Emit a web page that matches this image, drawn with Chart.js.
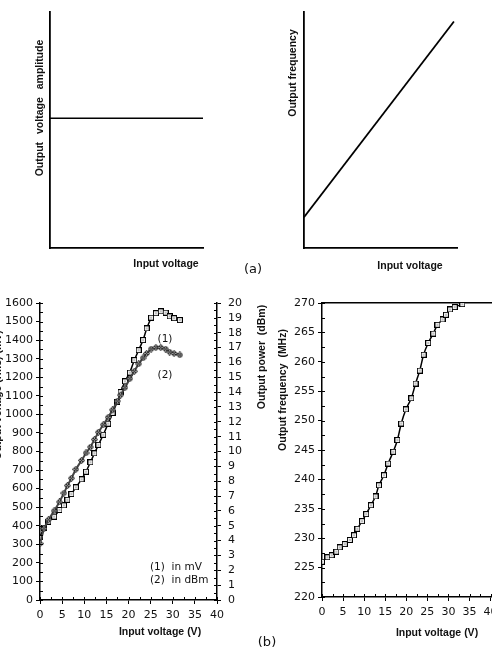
<!DOCTYPE html>
<html>
<head>
<meta charset="utf-8">
<script src="https://cdn.jsdelivr.net/npm/chart.js@4.4.1/dist/chart.umd.min.js"></script>
<style>
  html, body { margin: 0; padding: 0; background: #fff; }
  #wrap { position: relative; width: 492px; height: 650px; overflow: hidden; background: #fff; }
  #wrap canvas { position: absolute; left: 0; top: 0; }
</style>
</head>
<body>
<div id="wrap">
  <canvas id="ampChart" width="520" height="650"></canvas>
  <canvas id="freqSketch" width="520" height="650"></canvas>
  <canvas id="powerChart" width="520" height="650"></canvas>
  <canvas id="freqChart" width="520" height="650"></canvas>
</div>
<script>
// (a) idealised responses, axes in arbitrary units
const ampIn = [0, 1];
const ampOut = [0.55, 0.55];
const sketchIn = [0, 0.98];
const sketchFreq = [0.13, 0.96];

// (b) left: output voltage (mV) and output power (dBm) vs input voltage
const voltsPow = [0, 0.9, 1.9, 3.2, 4.4, 5.4, 6.2, 7.1, 8.1, 9.4, 10.4, 11.4, 12.3, 13.2, 14.3, 15.4,
  16.4, 17.5, 18.2, 19.2, 20.3, 21.3, 22.3, 23.3, 24.1, 25.1, 26.2, 27.3, 28.4, 29.3, 30.3, 31.6];
const outMv = [340, 390, 422, 449, 485, 510, 540, 571, 607, 650, 691, 742, 790, 836, 890, 950,
  1008, 1069, 1120, 1178, 1225, 1292, 1346, 1400, 1463, 1521, 1545, 1555, 1548, 1528, 1518, 1508];
const outDbm = [3.8, 4.8, 5.4, 6.0, 6.6, 7.2, 7.7, 8.2, 8.8, 9.4, 9.9, 10.3, 10.8, 11.3, 11.8, 12.3,
  12.8, 13.4, 13.8, 14.3, 14.9, 15.4, 15.9, 16.3, 16.6, 16.9, 17.0, 17.0, 16.9, 16.7, 16.6, 16.5];

// (b) right: output frequency (MHz) vs input voltage
const voltsFreq = [0, 1.3, 2.3, 3.4, 4.2, 5.4, 6.6, 7.6, 8.4, 9.5, 10.5, 11.6, 12.7, 13.5, 14.7, 15.7,
  16.9, 17.9, 18.8, 19.9, 21.2, 22.2, 23.2, 24.1, 25.2, 26.4, 27.4, 28.6, 29.4, 30.4, 31.5, 33.3];
const outMhz = [226.0, 226.75, 227.1, 227.7, 228.45, 229.0, 229.7, 230.5, 231.6, 232.9, 234.1, 235.6,
  237.1, 239.0, 240.7, 242.7, 244.7, 246.7, 249.5, 251.9, 253.8, 256.3, 258.5, 261.2, 263.2, 264.8,
  266.3, 267.2, 268.0, 268.9, 269.3, 269.8];

const INK = '#111';
const tickFont = { family: 'DejaVu Sans', size: 11 };
const titleFont = 'bold 10.5px "Liberation Sans"';
const noteFont = '10.5px "DejaVu Sans"';

function pts(xs, ys) {
  return xs.map((x, i) => ({ x: x, y: ys[i] }));
}

// open square with a dot in the middle
function squareMark() {
  const c = document.createElement('canvas');
  c.width = c.height = 6;
  const g = c.getContext('2d');
  g.fillStyle = '#fff';
  g.fillRect(0.5, 0.5, 5, 5);
  g.strokeStyle = '#000';
  g.lineWidth = 1.1;
  g.strokeRect(0.5, 0.5, 5, 5);
  g.fillStyle = '#000';
  g.fillRect(2.5, 2.5, 1, 1);
  return c;
}

// hatched diamond used for the dBm curve
function diamondMark() {
  const c = document.createElement('canvas');
  c.width = c.height = 7;
  const g = c.getContext('2d');
  g.beginPath();
  g.moveTo(3.5, 0.3); g.lineTo(6.7, 3.5); g.lineTo(3.5, 6.7); g.lineTo(0.3, 3.5); g.closePath();
  g.fillStyle = '#999';
  g.fill();
  g.strokeStyle = '#222';
  g.lineWidth = 1;
  g.stroke();
  g.beginPath();
  g.moveTo(2, 2); g.lineTo(5, 5); g.moveTo(5, 2); g.lineTo(2, 5);
  g.stroke();
  return c;
}

// free text placed on the page (axis titles, notes, panel letters)
function textPlugin(items) {
  return {
    id: 'pageText',
    afterDraw(chart) {
      const ctx = chart.ctx;
      items.forEach(t => {
        ctx.save();
        ctx.font = t.font;
        ctx.fillStyle = INK;
        ctx.textAlign = t.align || 'center';
        ctx.textBaseline = 'middle';
        if (t.ws) ctx.wordSpacing = t.ws;
        ctx.translate(t.x, t.y);
        if (t.rot) ctx.rotate(t.rot);
        ctx.fillText(t.text, 0, 0);
        ctx.restore();
      });
    }
  };
}

// small tick marks pointing into the plot area, for the listed scales
function inTicks(ids) {
  return {
    id: 'inTicks',
    afterDraw(chart) {
      const ctx = chart.ctx;
      const a = chart.chartArea;
      const len = 3;
      ctx.save();
      ctx.strokeStyle = '#000';
      ctx.lineWidth = 1;
      ids.forEach(id => {
        const s = chart.scales[id];
        s.ticks.forEach(t => {
          const p = Math.round(s.getPixelForValue(t.value)) + 0.5;
          ctx.beginPath();
          if (s.axis === 'x') {
            if (p < a.left - 1 || p > a.right + 1) return;
            ctx.moveTo(p, a.bottom);
            ctx.lineTo(p, a.bottom - len);
          } else if (s.position === 'left') {
            if (p < a.top - 1 || p > a.bottom + 1) return;
            ctx.moveTo(a.left, p);
            ctx.lineTo(a.left + len, p);
          } else {
            if (p < a.top - 1 || p > a.bottom + 1) return;
            ctx.moveTo(a.right, p);
            ctx.lineTo(a.right - len, p);
          }
          ctx.stroke();
        });
      });
      ctx.restore();
    }
  };
}

function isMult(v, m) {
  const q = v / m;
  return Math.abs(q - Math.round(q)) < 1e-6;
}

function bareAxis(size, horizontal) {
  return {
    type: 'linear',
    min: 0,
    max: 1,
    ticks: { display: false },
    grid: { display: false },
    border: { display: true, color: '#000', width: 1.8 },
    afterFit: s => { if (horizontal) s.height = size; else s.width = size; }
  };
}

function tickAxis(opts) {
  return {
    type: 'linear',
    position: opts.position,
    min: opts.min,
    max: opts.max,
    // tick values from first to last label, every minor step
    afterBuildTicks: s => {
      const list = [];
      const n = Math.round((opts.last - opts.min) / opts.step);
      for (let i = 0; i <= n; i++) list.push({ value: opts.min + i * opts.step });
      s.ticks = list;
    },
    ticks: {
      autoSkip: false,
      maxRotation: 0,
      padding: opts.pad,
      color: INK,
      font: tickFont,
      callback: v => (isMult(v, opts.major) ? String(Math.round(v)) : '')
    },
    grid: {
      display: true,
      drawOnChartArea: false,
      drawTicks: true,
      tickLength: 4,
      tickWidth: 1,
      tickColor: c => (c.tick && isMult(c.tick.value, opts.major) ? '#000' : 'rgba(0,0,0,0)')
    },
    border: { display: true, color: '#000', width: 1.5 },
    afterFit: s => { if (opts.position === 'bottom') s.height = opts.size; else s.width = opts.size; }
  };
}

const baseOptions = (padding) => ({
  responsive: false,
  animation: false,
  devicePixelRatio: 1,
  layout: { padding: padding },
  plugins: { legend: { display: false }, tooltip: { enabled: false } }
});

// (a) left: amplitude stays constant
new Chart(document.getElementById('ampChart'), {
  type: 'scatter',
  data: {
    datasets: [{
      data: pts(ampIn, ampOut),
      showLine: true,
      borderColor: '#000',
      borderWidth: 1.5,
      pointRadius: 0
    }]
  },
  options: Object.assign(baseOptions({ left: 50, right: 317, top: 12, bottom: 402 }), {
    scales: { x: bareAxis(0, true), y: bareAxis(0, false) }
  }),
  plugins: [textPlugin([
    { text: 'Output voltage amplitude', x: 40, y: 108, rot: -Math.PI / 2, font: titleFont, ws: '5px' },
    { text: 'Input voltage', x: 166, y: 264, font: titleFont },
    { text: '(a)', x: 253, y: 270, font: '13px "DejaVu Sans"' }
  ])]
});

// (a) right: frequency rises linearly
new Chart(document.getElementById('freqSketch'), {
  type: 'scatter',
  data: {
    datasets: [{
      data: pts(sketchIn, sketchFreq),
      showLine: true,
      borderColor: '#000',
      borderWidth: 1.8,
      pointRadius: 0
    }]
  },
  options: Object.assign(baseOptions({ left: 304, right: 63, top: 12, bottom: 402 }), {
    scales: { x: bareAxis(0, true), y: bareAxis(0, false) }
  }),
  plugins: [textPlugin([
    { text: 'Output frequency', x: 293, y: 73, rot: -Math.PI / 2, font: titleFont },
    { text: 'Input voltage', x: 410, y: 266, font: titleFont }
  ])]
});

// (b) left: output voltage and power
new Chart(document.getElementById('powerChart'), {
  type: 'scatter',
  data: {
    datasets: [{
      data: pts(voltsPow, outDbm),
      yAxisID: 'yPow',
      showLine: true,
      borderColor: '#444',
      borderWidth: 2,
      pointStyle: diamondMark(),
      pointRadius: 3.5
    }, {
      data: pts(voltsPow, outMv),
      yAxisID: 'y',
      showLine: true,
      borderColor: '#000',
      borderWidth: 1.5,
      pointStyle: squareMark(),
      pointRadius: 3
    }]
  },
  options: Object.assign(baseOptions({ left: 0, right: 273, top: 303, bottom: 30 }), {
    scales: {
      x: tickAxis({ position: 'bottom', min: 0, max: 40, last: 40, step: 2.5, major: 5, pad: 5, size: 20 }),
      y: tickAxis({ position: 'left', min: 0, max: 1600, last: 1600, step: 50, major: 100, pad: 3, size: 40 }),
      yPow: tickAxis({ position: 'right', min: 0, max: 20, last: 20, step: 0.5, major: 1, pad: 7, size: 30 })
    }
  }),
  plugins: [inTicks(['x', 'y', 'yPow']), textPlugin([
    { text: 'Output voltage (rms) (mV)', x: -2, y: 395, rot: -Math.PI / 2, font: titleFont },
    { text: 'Output power  (dBm)', x: 262, y: 357, rot: -Math.PI / 2, font: titleFont },
    { text: 'Input voltage (V)', x: 160, y: 632, font: titleFont },
    { text: '(1)', x: 165, y: 339, font: noteFont },
    { text: '(2)', x: 165, y: 375, font: noteFont },
    { text: '(1)  in mV', x: 150, y: 567, align: 'left', font: noteFont },
    { text: '(2)  in dBm', x: 150, y: 580, align: 'left', font: noteFont }
  ])]
});

// (b) right: output frequency
const xTop = bareAxis(0, true);
xTop.position = 'top';
xTop.min = 0;
xTop.max = 42;
xTop.border.width = 1.5;

new Chart(document.getElementById('freqChart'), {
  type: 'scatter',
  data: {
    datasets: [{
      data: pts(voltsFreq, outMhz),
      showLine: true,
      tension: 0.2,
      borderColor: '#000',
      borderWidth: 1.5,
      pointStyle: squareMark(),
      pointRadius: 3
    }]
  },
  options: Object.assign(baseOptions({ left: 282, right: 21, top: 303, bottom: 33 }), {
    scales: {
      x: tickAxis({ position: 'bottom', min: 0, max: 42, last: 42.5, step: 2.5, major: 5, pad: 5, size: 20 }),
      xTop: xTop,
      y: tickAxis({ position: 'left', min: 220, max: 270, last: 270, step: 2.5, major: 5, pad: 3, size: 40 })
    }
  }),
  plugins: [inTicks(['x', 'y']), textPlugin([
    { text: 'Output frequency  (MHz)', x: 283, y: 390, rot: -Math.PI / 2, font: titleFont },
    { text: 'Input voltage (V)', x: 437, y: 633, font: titleFont },
    { text: '(b)', x: 267, y: 643, font: '13px "DejaVu Sans"' }
  ])]
});
</script>
</body>
</html>
